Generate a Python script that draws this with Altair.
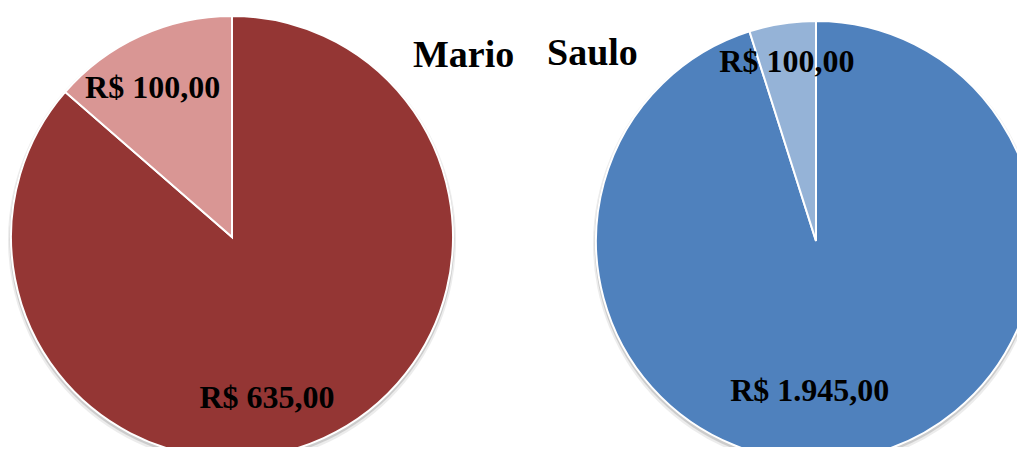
import altair as alt
import pandas as pd

people = ["Mario", "Mario", "Saulo", "Saulo"]
kinds = ["grande", "pequeno", "grande", "pequeno"]
values = [635, 100, 1945, 100]
labels = ["R$ 635,00", "R$ 100,00", "R$ 1.945,00", "R$ 100,00"]
slice_keys = ["Mario-grande", "Mario-pequeno", "Saulo-grande", "Saulo-pequeno"]
slice_colors = ["#943634", "#D99694", "#4F81BD", "#95B3D7"]
orders = [0, 1, 0, 1]
titles = ["Mario", "Saulo"]

df = pd.DataFrame(dict(person=people, kind=kinds, value=values, label=labels,
                       key=slice_keys, ord=orders))
FONT = "Liberation Serif"

color = alt.Color("key:N", scale=alt.Scale(domain=slice_keys, range=slice_colors), legend=None)


def pie(person, cx, cy, r, label_specs):
    b = alt.Chart(df).transform_filter(alt.datum.person == person)
    theta = alt.Theta("value:Q", stack=True)
    order = alt.Order("ord:Q")
    layers = []
    shadow1 = alt.Chart(df).transform_filter(alt.datum.person == person).transform_aggregate(
        total="sum(value)").mark_arc(theta=0, theta2=6.2832, radius=r + 3, color="#808080",
                                     opacity=0.15).encode(x=alt.value(cx), y=alt.value(cy + 3))
    shadow2 = alt.Chart(df).transform_filter(alt.datum.person == person).transform_aggregate(
        total="sum(value)").mark_arc(theta=0, theta2=6.2832, radius=r + 1.5, color="#808080",
                                     opacity=0.3).encode(x=alt.value(cx), y=alt.value(cy + 2))
    layers += [shadow1, shadow2]
    arc = b.mark_arc(radius=r, stroke="white", strokeWidth=2).encode(
        theta=theta, order=order, color=color, x=alt.value(cx), y=alt.value(cy))
    layers.append(arc)
    for kind, rr, dx, dy in label_specs:
        t = b.mark_text(radius=rr, dx=dx, dy=dy, font=FONT, fontSize=32, fontWeight="bold",
                        align="center", baseline="alphabetic", color="black").encode(
            theta=theta, order=order,
            text=alt.condition(alt.datum.kind == kind, "label:N", alt.value("")),
            x=alt.value(cx), y=alt.value(cy))
        layers.append(t)
    return layers


layers = []
layers += pie("Mario", 224, 229, 221, [("pequeno", 153, -16, 0), ("grande", 188, -43, 0)])
layers += pie("Saulo", 808, 233, 220, [("pequeno", 171, -3, 0), ("grande", 162, -31, 0)])

tdf = pd.DataFrame({"t": titles})
title_mario = alt.Chart(tdf).transform_filter(alt.datum.t == "Mario").mark_text(
    font=FONT, fontSize=38, fontWeight="bold", align="left", baseline="alphabetic",
    color="black").encode(text="t:N", x=alt.value(405), y=alt.value(59))
title_saulo = alt.Chart(tdf).transform_filter(alt.datum.t == "Saulo").mark_text(
    font=FONT, fontSize=38, fontWeight="bold", align="left", baseline="alphabetic",
    color="black").encode(text="t:N", x=alt.value(539), y=alt.value(57))
layers += [title_mario, title_saulo]

chart = alt.layer(*layers).resolve_scale(theta="independent").properties(
    width=1009, height=439, autosize=alt.AutoSizeParams(type="none"), padding=0
).configure_view(stroke=None)

chart.save("out.html", embed_options={"renderer": "svg", "actions": False})
